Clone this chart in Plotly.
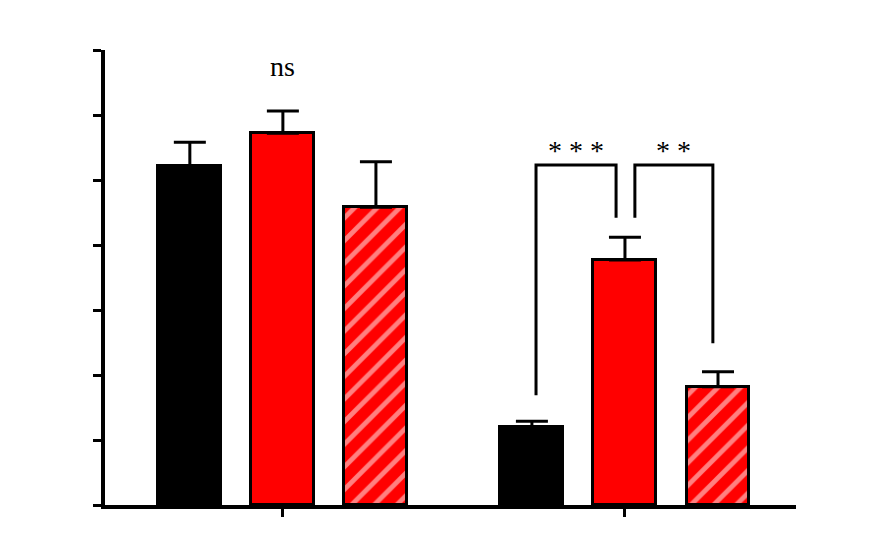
import plotly.graph_objects as go

groups = [1, 2]
offsets = [-0.272, 0.0, 0.272]
black_vals = [5.22, 1.20]
black_err = [0.36, 0.09]
red_vals = [5.72, 3.77]
red_err = [0.34, 0.35]
hatch_vals = [4.58, 1.82]
hatch_err = [0.70, 0.23]
ytick_vals = [0, 1, 2, 3, 4, 5, 6, 7]

fig = go.Figure()
series = [
    (black_vals, black_err, "black", None),
    (red_vals, red_err, "red", None),
    (hatch_vals, hatch_err, "red", dict(shape="/", fgcolor="white", bgcolor="red", size=16, solidity=0.3)),
]
for (vals, err, col, pat), off in zip(series, offsets):
    marker = dict(color=col, line=dict(color="black", width=3))
    if pat:
        marker["pattern"] = pat
    fig.add_trace(go.Bar(
        x=[g + off for g in groups], y=vals, width=0.184, marker=marker,
        error_y=dict(type="data", array=err, arrayminus=[0, 0], symmetric=False,
                     color="black", thickness=3, width=16),
        showlegend=False))

line = dict(color="black", width=3)
def bracket(x0, y0, x1, y1, ytop):
    fig.add_shape(type="path", path=f"M {x0},{y0} L {x0},{ytop} L {x1},{ytop} L {x1},{y1}", line=line)
bracket(1.740, 1.69, 1.974, 4.42, 5.23)
bracket(2.029, 4.42, 2.257, 2.49, 5.23)

font = dict(family="Liberation Serif", size=28, color="black")
fig.add_annotation(x=1, y=6.75, text="ns", showarrow=False, font=font)
fig.add_annotation(x=1.857, y=5.45, text="* * *", showarrow=False, font=font)
fig.add_annotation(x=2.143, y=5.45, text="* *", showarrow=False, font=font)

fig.update_layout(
    width=880, height=550, plot_bgcolor="white", paper_bgcolor="white",
    margin=dict(l=97, r=92, t=42, b=53), bargap=0,
    xaxis=dict(range=[0.48, 2.5], tickvals=groups, ticks="outside", ticklen=8, tickwidth=3,
               tickcolor="black", showticklabels=False, showline=True, linecolor="black",
               linewidth=4, showgrid=False, zeroline=False),
    yaxis=dict(range=[0, 7], tickvals=ytick_vals, ticks="outside", ticklen=8, tickwidth=3,
               tickcolor="black", showticklabels=False, showline=True, linecolor="black",
               linewidth=4, showgrid=False, zeroline=False),
)
fig.write_html("out.html")
